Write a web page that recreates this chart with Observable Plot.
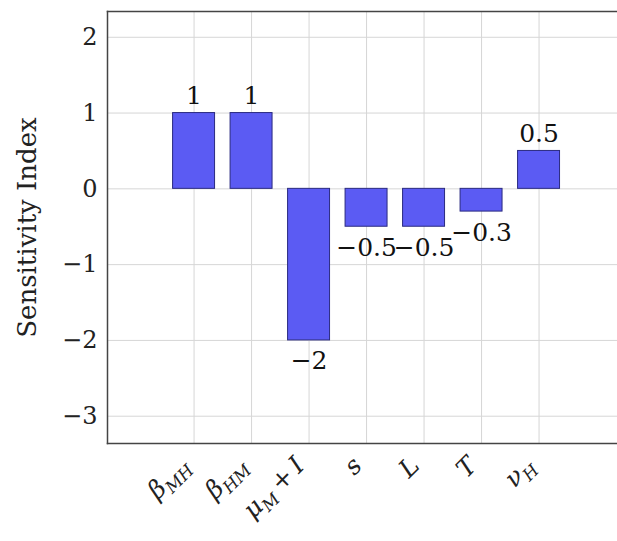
<!DOCTYPE html>
<html><head><meta charset="utf-8">
<script src="https://cdn.jsdelivr.net/npm/d3@7"></script>
<script src="https://cdn.jsdelivr.net/npm/@observablehq/plot@0.6"></script>
<style>body{margin:0;background:#fff}</style>
</head><body><div id="chart"></div>
<script>
const categories = ["bMH", "bHM", "muMI", "s", "L", "T", "nuH"];
const labelBase = ["β", "β", "μ", "s", "L", "T", "ν"];
const labelSub = ["MH", "HM", "M", "", "", "", "H"];
const labelSuffix = ["", "", "I", "", "", "", ""];
const values = [1, 1, -2, -0.5, -0.5, -0.3, 0.5];
const yTicks = [-3, -2, -1, 0, 1, 2];

const data = categories.map((c, i) => ({cat: c, value: values[i]}));
const fmt = v => (v < 0 ? "\u2212" : "") + Math.abs(v);
const font = "'DejaVu Serif', serif";

const plot = Plot.plot({
  width: 617, height: 541,
  marginTop: 11, marginLeft: 107, marginRight: 0, marginBottom: 98,
  style: {fontFamily: font, fontSize: "24px", background: "#fff", color: "#222"},
  x: {type: "band", domain: categories, paddingInner: 0.27, paddingOuter: 1.07, align: 0.533, round: false},
  y: {domain: [-3.36, 2.34]},
  marks: [
    Plot.gridX(categories, {stroke: "#d6d6d6", strokeOpacity: 1}),
    Plot.gridY(yTicks, {stroke: "#d6d6d6", strokeOpacity: 1}),
    Plot.barY(data, {x: "cat", y: "value", fill: "#5b5bf3", stroke: "#2a2a80", strokeWidth: 1}),
    Plot.text(data.filter(d => d.value >= 0), {x: "cat", y: "value", text: d => fmt(d.value), dy: -17, lineAnchor: "middle", fontSize: 25, fill: "#111"}),
    Plot.text(data.filter(d => d.value < 0), {x: "cat", y: "value", text: d => fmt(d.value), dy: 21, lineAnchor: "middle", fontSize: 25, fill: "#111"}),
    Plot.axisY(yTicks, {tickFormat: fmt, tickSize: 0, tickPadding: 10, fontSize: 24, label: null}),
    Plot.axisY({label: "Sensitivity Index", labelAnchor: "center", labelArrow: "none", labelOffset: 90, fontSize: 26, ticks: [], tickSize: 0}),
    Plot.axisX(categories, {tickRotate: -45, tickSize: 0, tickPadding: 18, dx: -9, label: null, fontSize: 25}),
    Plot.frame({anchor: "top", stroke: "#444", strokeWidth: 1.5}),
    Plot.frame({anchor: "left", stroke: "#444", strokeWidth: 1.5}),
    Plot.frame({anchor: "bottom", stroke: "#444", strokeWidth: 1.5})
  ]
});

// Replace x tick labels with math-style text (italic, subscripts)
d3.select(plot).selectAll('g[aria-label="x-axis tick label"] text').each(function() {
  const t = d3.select(this);
  const i = categories.indexOf(t.text());
  if (i < 0) return;
  t.text("");
  t.append("tspan").attr("font-style", "italic").text(labelBase[i]);
  if (labelSub[i]) {
    t.append("tspan").attr("font-style", "italic").attr("font-size", 17).attr("dy", 6).text(labelSub[i]);
  }
  if (labelSuffix[i]) {
    t.append("tspan").attr("dy", -6).text("\u2009+\u2009");
    t.append("tspan").attr("font-style", "italic").text(labelSuffix[i]);
  }
});

document.getElementById("chart").appendChild(plot);
</script>
</body></html>
